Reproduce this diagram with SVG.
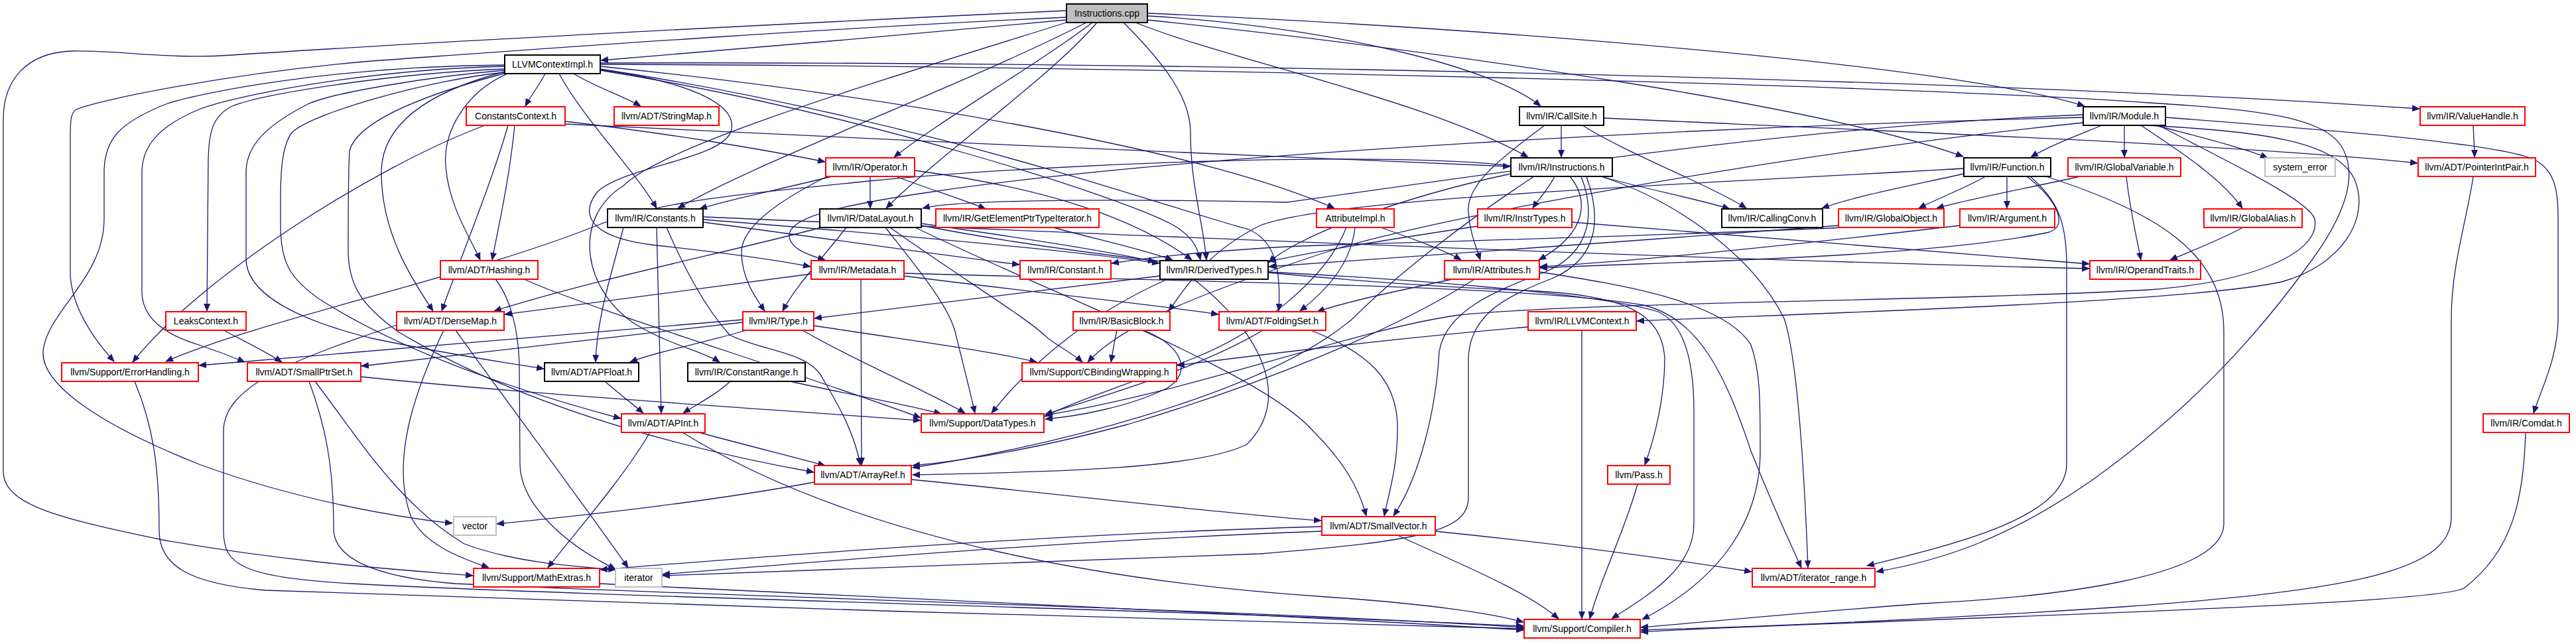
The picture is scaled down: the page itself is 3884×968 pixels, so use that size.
<svg xmlns="http://www.w3.org/2000/svg" width="3884" height="968" viewBox="0 0 3884 968">
<style>
.e{fill:none;stroke:#191970;stroke-width:1.3;marker-end:url(#ah)}
.n rect{fill:#ffffff;stroke-width:2}
.r rect{stroke:#ff0000}
.b rect{stroke:#000000}
.g rect{stroke:#bfbfbf}
.n text{font-family:"Liberation Sans",Arial,sans-serif;font-size:14px;fill:#000000;text-anchor:middle}
</style>
<defs>
<marker id="ah" markerWidth="12" markerHeight="10" refX="11" refY="5" orient="auto" markerUnits="userSpaceOnUse">
<path d="M0,0 L12,5 L0,10 z" fill="#191970"/>
</marker>
</defs>
<rect width="3884" height="968" fill="#ffffff"/>
<g id="edges">
<path class="e" d="M1608,30 C1400,50 1100,75 906,91"/>
<path class="e" d="M1608,16 C1300,30 700,60 350,83 C250,90 180,75 107,77 C40,80 5,120 5,180 L5,710 C5,760 80,780 250,815 C450,850 620,860 713,868"/>
<path class="e" d="M1608,26 C1200,45 800,75 560,92 C350,110 150,150 115,165 C106,170 106,185 106,210 L106,410 C106,460 140,510 172,545"/>
<path class="e" d="M1638,34 C1450,130 1150,240 1022,314"/>
<path class="e" d="M1608,34 C1300,130 1000,220 940,280 C860,330 880,440 960,490 C1010,520 1060,530 1085,546"/>
<path class="e" d="M1647,34 C1560,100 1420,180 1348,237"/>
<path class="e" d="M1654,34 C1580,120 1420,230 1336,314"/>
<path class="e" d="M1694,34 C1760,100 1795,150 1795,200 C1795,280 1815,340 1819,392"/>
<path class="e" d="M1712,34 C1850,90 2150,150 2304,237"/>
<path class="e" d="M1730,30 C2200,80 2750,160 2960,236"/>
<path class="e" d="M1730,24 C2000,40 2250,100 2323,160"/>
<path class="e" d="M1730,20 C2300,45 2950,100 3143,160"/>
<path class="e" d="M822,111 C812,130 800,145 792,160"/>
<path class="e" d="M865,111 C895,130 940,145 966,160"/>
<path class="e" d="M843,111 C880,180 960,260 990,314"/>
<path class="e" d="M765,111 C700,140 668,200 672,250 C676,310 710,360 724,392"/>
<path class="e" d="M761,108 C640,140 575,190 575,260 C575,350 620,420 653,469"/>
<path class="e" d="M761,104 C600,110 400,140 350,160 C320,175 315,200 314,240 L312,469"/>
<path class="e" d="M761,98 C500,100 300,140 250,157 C180,185 157,210 157,260 L157,330 C157,420 70,470 65,530 C62,580 150,640 300,700 C450,755 600,780 682,789"/>
<path class="e" d="M761,100 C550,105 350,145 300,165 C240,190 214,220 214,260 L214,440 C214,480 250,505 300,520 C330,530 350,538 369,546"/>
<path class="e" d="M761,106 C650,115 500,140 464,157 C400,190 371,220 371,260 L371,390 C371,440 440,480 560,510 C680,535 770,548 820,556"/>
<path class="e" d="M761,109 C650,120 470,170 440,200 C425,220 423,260 423,300 L423,340 C423,400 440,420 480,450 C620,540 820,600 936,631"/>
<path class="e" d="M763,110 C650,140 540,180 527,227 C525,260 525,340 525,377 C525,430 545,460 600,500 C800,620 1050,680 1227,712"/>
<path class="e" d="M905,100 C1300,140 1800,220 2012,314"/>
<path class="e" d="M905,104 C1400,180 1780,320 1880,345 C1920,360 1932,400 1928,469"/>
<path class="e" d="M905,106 C1300,170 1700,300 1770,340 C1795,355 1805,370 1810,392"/>
<path class="e" d="M905,105 C1050,125 1110,160 1103,195 C1095,240 940,250 900,290 C870,330 900,360 990,370 C1100,382 1170,392 1222,402"/>
<path class="e" d="M905,95 C1800,92 3000,120 3648,164"/>
<path class="e" d="M905,97 C1800,100 2900,130 3240,155 C3400,165 3500,175 3530,220 C3555,260 3540,320 3480,400 C3400,510 3300,620 3150,727 C3030,810 2930,845 2829,862"/>
<path class="e" d="M766,189 C740,280 690,400 666,469"/>
<path class="e" d="M776,189 C768,270 752,340 742,392"/>
<path class="e" d="M731,189 C560,253 300,420 200,546"/>
<path class="e" d="M852,183 C1000,200 1150,225 1244,244"/>
<path class="e" d="M852,187 C1300,210 1900,235 2277,251"/>
<path class="e" d="M2354,189 L2354,237"/>
<path class="e" d="M2386,189 C2450,230 2580,280 2633,314"/>
<path class="e" d="M2329,189 C2260,240 2210,280 2214,320 C2216,350 2225,370 2232,392"/>
<path class="e" d="M2418,178 C2900,200 3400,220 3645,246"/>
<path class="e" d="M3729,189 C3730,210 3731,225 3731,237"/>
<path class="e" d="M3169,189 C3130,205 3090,220 3062,237"/>
<path class="e" d="M3203,189 L3203,237"/>
<path class="e" d="M3250,189 C3310,205 3380,222 3419,238"/>
<path class="e" d="M3228,189 C3290,230 3350,270 3381,314"/>
<path class="e" d="M3265,177 C3500,195 3760,215 3820,240 C3860,260 3857,300 3857,360 L3857,480 C3857,540 3830,590 3820,623"/>
<path class="e" d="M3238,189 C3400,198 3520,210 3550,270 C3575,330 3530,400 3440,425 C3300,455 2800,470 2468,484"/>
<path class="e" d="M3255,189 C3350,240 3480,300 3490,330 C3500,380 3400,425 3240,437 C2900,455 2400,455 2200,475 C2050,495 1800,590 1576,626"/>
<path class="e" d="M3141,173 C2700,190 2200,270 1940,305 C1700,300 1450,300 1391,314"/>
<path class="e" d="M3141,177 C2600,190 1800,230 1400,290 C1250,312 1190,330 1190,355 C1190,375 1220,385 1244,392"/>
<path class="e" d="M3141,185 C2700,230 2150,330 2000,380 C1850,430 1700,480 1640,546"/>
<path class="e" d="M1312,266 L1312,314"/>
<path class="e" d="M1351,266 C1400,285 1450,300 1486,315"/>
<path class="e" d="M1254,266 C1180,285 1100,300 1055,315"/>
<path class="e" d="M1247,266 C1180,300 1118,340 1118,380 C1118,420 1140,450 1153,469"/>
<path class="e" d="M1379,257 C1550,280 1700,320 1797,392"/>
<path class="e" d="M2344,266 C2335,285 2320,300 2311,314"/>
<path class="e" d="M2414,266 C2480,285 2560,300 2608,315"/>
<path class="e" d="M2367,266 C2395,300 2395,350 2320,392"/>
<path class="e" d="M2278,262 C2100,300 1950,360 1913,396"/>
<path class="e" d="M2384,266 C2405,320 2400,380 2330,410 C2250,440 2180,470 2170,530 C2165,620 2140,720 2101,778"/>
<path class="e" d="M2313,266 C2200,340 2100,420 2040,480 C1900,600 1550,680 1376,705"/>
<path class="e" d="M2392,266 C2415,330 2410,390 2340,420 C2260,450 2216,480 2214,540 L2214,750 C2214,800 2150,815 1900,835 C1500,852 1200,862 999,868"/>
<path class="e" d="M2414,266 C2520,300 2640,380 2690,480 C2710,540 2720,700 2726,856"/>
<path class="e" d="M2278,250 C2100,228 1600,245 1310,273 C1150,290 1000,300 900,340 C700,420 400,480 250,545"/>
<path class="e" d="M3026,266 L3026,314"/>
<path class="e" d="M2994,266 C2960,285 2920,300 2893,314"/>
<path class="e" d="M2961,262 C2880,280 2800,295 2747,314"/>
<path class="e" d="M3056,266 C3100,300 3120,340 3090,350 C2900,390 2500,395 2322,404"/>
<path class="e" d="M2961,254 C2500,280 2000,300 1900,340 C1820,380 1790,430 1762,469"/>
<path class="e" d="M3061,266 C3100,300 3116,330 3116,400 L3116,700 C3116,780 2950,820 2815,853"/>
<path class="e" d="M3085,266 C3250,320 3353,380 3353,500 L3353,790 C3353,870 3100,900 2900,910 C2700,925 2550,940 2474,946"/>
<path class="e" d="M3137,266 C3050,285 2970,300 2920,314"/>
<path class="e" d="M3206,266 C3212,320 3222,360 3228,392"/>
<path class="e" d="M3729,266 C3720,330 3696,400 3696,480 L3696,780 C3696,860 3550,890 3200,915 C2900,935 2650,945 2474,950"/>
<path class="e" d="M3808,652 C3805,750 3790,830 3715,887 C3680,905 3300,920 2900,935 C2700,943 2550,948 2474,953"/>
<path class="e" d="M940,343 C920,420 900,480 898,546"/>
<path class="e" d="M990,343 C992,450 996,550 997,623"/>
<path class="e" d="M1005,343 C1030,400 1060,460 1100,505 C1150,530 1220,530 1240,570 C1270,620 1290,660 1297,701"/>
<path class="e" d="M1060,335 C1250,360 1420,385 1537,399"/>
<path class="e" d="M1060,331 C1300,350 1600,375 1748,397"/>
<path class="e" d="M1060,327 C1600,350 2500,390 3150,405"/>
<path class="e" d="M2370,335 C2700,360 3000,385 3150,398"/>
<path class="e" d="M1238,343 C1100,380 900,420 745,469"/>
<path class="e" d="M1389,340 C1700,400 2100,430 2300,438 C2450,445 2505,470 2510,540 C2510,600 2495,660 2480,701"/>
<path class="e" d="M1380,343 C1600,450 1900,560 1980,650 C2030,700 2050,740 2060,778"/>
<path class="e" d="M1276,343 C1240,390 1200,430 1180,469"/>
<path class="e" d="M1389,337 C1550,360 1680,380 1742,395"/>
<path class="e" d="M1335,343 C1380,400 1430,460 1440,500 C1455,560 1465,600 1470,623"/>
<path class="e" d="M1342,343 C1450,420 1550,480 1580,510 C1600,525 1620,535 1632,546"/>
<path class="e" d="M1588,343 C1650,360 1720,375 1768,392"/>
<path class="e" d="M2043,343 C2038,390 2010,430 1960,469"/>
<path class="e" d="M2082,343 C2130,360 2180,378 2203,392"/>
<path class="e" d="M2030,343 C2000,420 1900,500 1800,540 C1700,580 1620,605 1575,628"/>
<path class="e" d="M2228,341 C2100,360 1980,380 1913,394"/>
<path class="e" d="M2772,340 C2500,360 2100,390 1913,402"/>
<path class="e" d="M2780,343 C2400,360 2000,368 1940,372 C1800,380 1720,390 1676,397"/>
<path class="e" d="M2955,340 C2700,370 2450,395 2322,402"/>
<path class="e" d="M3382,343 C3340,365 3300,380 3272,392"/>
<path class="e" d="M790,421 C900,470 1200,560 1388,630"/>
<path class="e" d="M747,421 C770,450 782,500 783,550 L784,700 C785,760 850,820 928,858"/>
<path class="e" d="M1298,421 L1299,701"/>
<path class="e" d="M1363,416 C1550,440 1750,460 1837,474"/>
<path class="e" d="M1223,413 C1050,435 880,458 761,474"/>
<path class="e" d="M1363,412 C1800,425 2300,430 2478,460 C2560,480 2600,560 2640,680 C2680,780 2700,820 2716,856"/>
<path class="e" d="M1912,410 C2100,420 2400,440 2500,470 C2545,490 2554,560 2554,620 L2554,790 C2554,860 2480,900 2430,933"/>
<path class="e" d="M1749,416 C1550,440 1350,465 1228,480"/>
<path class="e" d="M1800,421 C1900,500 1950,600 1880,670 C1800,710 1550,712 1376,716"/>
<path class="e" d="M1760,421 C1650,470 1560,540 1495,623"/>
<path class="e" d="M2190,421 C2100,440 2030,455 1986,470"/>
<path class="e" d="M2223,421 C2100,500 1900,580 1700,640 C1550,680 1450,695 1376,702"/>
<path class="e" d="M2321,410 C2450,430 2600,455 2640,520 C2654,560 2654,600 2654,680 C2654,780 2600,870 2476,934"/>
<path class="e" d="M337,498 C370,515 400,530 425,546"/>
<path class="e" d="M598,490 C450,540 337,580 337,650 L337,800 C337,850 360,870 531,880 C900,900 1800,920 2297,944"/>
<path class="e" d="M669,498 C620,600 590,700 620,780 C640,820 690,840 737,856"/>
<path class="e" d="M687,498 C760,600 880,760 947,856"/>
<path class="e" d="M1125,498 C1050,520 990,530 950,546"/>
<path class="e" d="M1120,486 C900,510 700,535 545,552"/>
<path class="e" d="M1120,482 C800,510 500,535 300,551"/>
<path class="e" d="M1227,491 C1350,510 1500,530 1563,546"/>
<path class="e" d="M1210,498 C1300,550 1400,590 1455,623"/>
<path class="e" d="M1684,498 C1680,515 1678,530 1675,546"/>
<path class="e" d="M1725,498 C1780,520 1800,560 1760,585 C1700,615 1620,628 1576,632"/>
<path class="e" d="M1976,498 C2060,530 2105,570 2107,640 C2108,700 2095,740 2087,778"/>
<path class="e" d="M1904,498 C1800,560 1650,600 1576,625"/>
<path class="e" d="M2385,498 L2385,933"/>
<path class="e" d="M2304,493 C2100,510 1900,535 1775,551"/>
<path class="e" d="M466,575 C490,640 503,700 503,797 C503,840 560,870 687,880 C1100,900 1900,920 2297,946"/>
<path class="e" d="M544,568 C800,595 1200,620 1388,634"/>
<path class="e" d="M475,575 C540,660 600,760 700,820 C780,850 880,855 928,859"/>
<path class="e" d="M912,575 C935,595 955,610 970,623"/>
<path class="e" d="M1101,575 C1080,595 1050,610 1030,623"/>
<path class="e" d="M1191,575 C1280,595 1370,610 1419,624"/>
<path class="e" d="M1054,652 C1120,670 1200,690 1244,702"/>
<path class="e" d="M1029,652 C1300,820 1700,880 2000,900 C2150,910 2250,925 2297,938"/>
<path class="e" d="M980,652 C940,720 870,800 826,856"/>
<path class="e" d="M1374,723 C1600,745 1850,775 1992,785"/>
<path class="e" d="M1228,727 C1050,760 850,780 749,790"/>
<path class="e" d="M2469,730 C2450,800 2410,880 2397,933"/>
<path class="e" d="M2164,801 C2350,820 2500,840 2641,862"/>
<path class="e" d="M2107,807 C2200,850 2300,890 2350,933"/>
<path class="e" d="M1993,794 C1600,805 1200,835 905,859"/>
<path class="e" d="M1993,801 C1600,815 1200,850 999,866"/>
<path class="e" d="M904,880 C1300,900 1900,925 2297,950"/>
<path class="e" d="M203,575 C230,640 240,700 240,800 C240,850 280,880 400,890 C900,910 1800,935 2297,948"/>
</g>
<g id="n_instructions_cpp" class="n b"><rect x="1608" y="6" width="122" height="28" style="fill:#bfbfbf"/><text x="1669" y="25">Instructions.cpp</text></g>
<g id="n_llvmcontextimpl" class="n b"><rect x="761" y="83" width="144" height="28"/><text x="833" y="102">LLVMContextImpl.h</text></g>
<g id="n_module" class="n b"><rect x="3141" y="161" width="124" height="28"/><text x="3203" y="180">llvm/IR/Module.h</text></g>
<g id="n_constantscontext" class="n r"><rect x="703" y="161" width="149" height="28"/><text x="777.5" y="180">ConstantsContext.h</text></g>
<g id="n_stringmap" class="n r"><rect x="926" y="161" width="158" height="28"/><text x="1005" y="180">llvm/ADT/StringMap.h</text></g>
<g id="n_callsite" class="n b"><rect x="2291" y="161" width="127" height="28"/><text x="2354.5" y="180">llvm/IR/CallSite.h</text></g>
<g id="n_valuehandle" class="n r"><rect x="3649" y="161" width="158" height="28"/><text x="3728" y="180">llvm/IR/ValueHandle.h</text></g>
<g id="n_operator" class="n r"><rect x="1245" y="238" width="134" height="28"/><text x="1312" y="257">llvm/IR/Operator.h</text></g>
<g id="n_instructions_h" class="n b"><rect x="2278" y="238" width="153" height="28"/><text x="2354.5" y="257">llvm/IR/Instructions.h</text></g>
<g id="n_function" class="n b"><rect x="2961" y="238" width="131" height="28"/><text x="3026.5" y="257">llvm/IR/Function.h</text></g>
<g id="n_globalvariable" class="n r"><rect x="3118" y="238" width="170" height="28"/><text x="3203" y="257">llvm/IR/GlobalVariable.h</text></g>
<g id="n_system_error" class="n g"><rect x="3415" y="238" width="106" height="28"/><text x="3468" y="257">system_error</text></g>
<g id="n_pointerintpair" class="n r"><rect x="3646" y="238" width="177" height="28"/><text x="3734.5" y="257">llvm/ADT/PointerIntPair.h</text></g>
<g id="n_constants" class="n b"><rect x="916" y="315" width="144" height="28"/><text x="988" y="334">llvm/IR/Constants.h</text></g>
<g id="n_datalayout" class="n b"><rect x="1236" y="315" width="153" height="28"/><text x="1312.5" y="334">llvm/IR/DataLayout.h</text></g>
<g id="n_gepti" class="n r"><rect x="1411" y="315" width="246" height="28"/><text x="1534" y="334">llvm/IR/GetElementPtrTypeIterator.h</text></g>
<g id="n_attributeimpl" class="n r"><rect x="1985" y="315" width="117" height="28"/><text x="2043.5" y="334">AttributeImpl.h</text></g>
<g id="n_instrtypes" class="n r"><rect x="2228" y="315" width="142" height="28"/><text x="2299" y="334">llvm/IR/InstrTypes.h</text></g>
<g id="n_callingconv" class="n b"><rect x="2596" y="315" width="152" height="28"/><text x="2672" y="334">llvm/IR/CallingConv.h</text></g>
<g id="n_globalobject" class="n r"><rect x="2772" y="315" width="159" height="28"/><text x="2851.5" y="334">llvm/IR/GlobalObject.h</text></g>
<g id="n_argument" class="n r"><rect x="2955" y="315" width="143" height="28"/><text x="3026.5" y="334">llvm/IR/Argument.h</text></g>
<g id="n_globalalias" class="n r"><rect x="3323" y="315" width="148" height="28"/><text x="3397" y="334">llvm/IR/GlobalAlias.h</text></g>
<g id="n_hashing" class="n r"><rect x="664" y="393" width="147" height="28"/><text x="737.5" y="412">llvm/ADT/Hashing.h</text></g>
<g id="n_metadata" class="n r"><rect x="1223" y="393" width="140" height="28"/><text x="1293" y="412">llvm/IR/Metadata.h</text></g>
<g id="n_constant" class="n r"><rect x="1538" y="393" width="137" height="28"/><text x="1606.5" y="412">llvm/IR/Constant.h</text></g>
<g id="n_derivedtypes" class="n b"><rect x="1749" y="393" width="163" height="28"/><text x="1830.5" y="412">llvm/IR/DerivedTypes.h</text></g>
<g id="n_attributes" class="n r"><rect x="2178" y="393" width="143" height="28"/><text x="2249.5" y="412">llvm/IR/Attributes.h</text></g>
<g id="n_operandtraits" class="n r"><rect x="3151" y="393" width="167" height="28"/><text x="3234.5" y="412">llvm/IR/OperandTraits.h</text></g>
<g id="n_leakscontext" class="n r"><rect x="250" y="470" width="121" height="28"/><text x="310.5" y="489">LeaksContext.h</text></g>
<g id="n_densemap" class="n r"><rect x="598" y="470" width="162" height="28"/><text x="679" y="489">llvm/ADT/DenseMap.h</text></g>
<g id="n_type" class="n r"><rect x="1120" y="470" width="107" height="28"/><text x="1173.5" y="489">llvm/IR/Type.h</text></g>
<g id="n_basicblock" class="n r"><rect x="1618" y="470" width="146" height="28"/><text x="1691" y="489">llvm/IR/BasicBlock.h</text></g>
<g id="n_foldingset" class="n r"><rect x="1838" y="470" width="161" height="28"/><text x="1918.5" y="489">llvm/ADT/FoldingSet.h</text></g>
<g id="n_llvmcontext" class="n r"><rect x="2304" y="470" width="163" height="28"/><text x="2385.5" y="489">llvm/IR/LLVMContext.h</text></g>
<g id="n_errorhandling" class="n r"><rect x="93" y="547" width="206" height="28"/><text x="196" y="566">llvm/Support/ErrorHandling.h</text></g>
<g id="n_smallptrset" class="n r"><rect x="373" y="547" width="171" height="28"/><text x="458.5" y="566">llvm/ADT/SmallPtrSet.h</text></g>
<g id="n_apfloat" class="n b"><rect x="821" y="547" width="142" height="28"/><text x="892" y="566">llvm/ADT/APFloat.h</text></g>
<g id="n_constantrange" class="n b"><rect x="1037" y="547" width="177" height="28"/><text x="1125.5" y="566">llvm/IR/ConstantRange.h</text></g>
<g id="n_cbindingwrapping" class="n r"><rect x="1541" y="547" width="233" height="28"/><text x="1657.5" y="566">llvm/Support/CBindingWrapping.h</text></g>
<g id="n_apint" class="n r"><rect x="937" y="624" width="126" height="28"/><text x="1000" y="643">llvm/ADT/APInt.h</text></g>
<g id="n_datatypes" class="n r"><rect x="1389" y="624" width="185" height="28"/><text x="1481.5" y="643">llvm/Support/DataTypes.h</text></g>
<g id="n_comdat" class="n r"><rect x="3744" y="624" width="130" height="28"/><text x="3809" y="643">llvm/IR/Comdat.h</text></g>
<g id="n_arrayref" class="n r"><rect x="1228" y="702" width="146" height="28"/><text x="1301" y="721">llvm/ADT/ArrayRef.h</text></g>
<g id="n_pass" class="n r"><rect x="2424" y="702" width="94" height="28"/><text x="2471" y="721">llvm/Pass.h</text></g>
<g id="n_vector" class="n g"><rect x="684" y="779" width="64" height="28"/><text x="716" y="798">vector</text></g>
<g id="n_smallvector" class="n r"><rect x="1993" y="779" width="171" height="28"/><text x="2078.5" y="798">llvm/ADT/SmallVector.h</text></g>
<g id="n_mathextras" class="n r"><rect x="714" y="857" width="190" height="28"/><text x="809" y="876">llvm/Support/MathExtras.h</text></g>
<g id="n_iterator" class="n g"><rect x="928" y="857" width="70" height="28"/><text x="963" y="876">iterator</text></g>
<g id="n_iterator_range" class="n r"><rect x="2642" y="857" width="185" height="28"/><text x="2734.5" y="876">llvm/ADT/iterator_range.h</text></g>
<g id="n_compiler" class="n r"><rect x="2298" y="934" width="175" height="28"/><text x="2385.5" y="953">llvm/Support/Compiler.h</text></g>
</svg>
